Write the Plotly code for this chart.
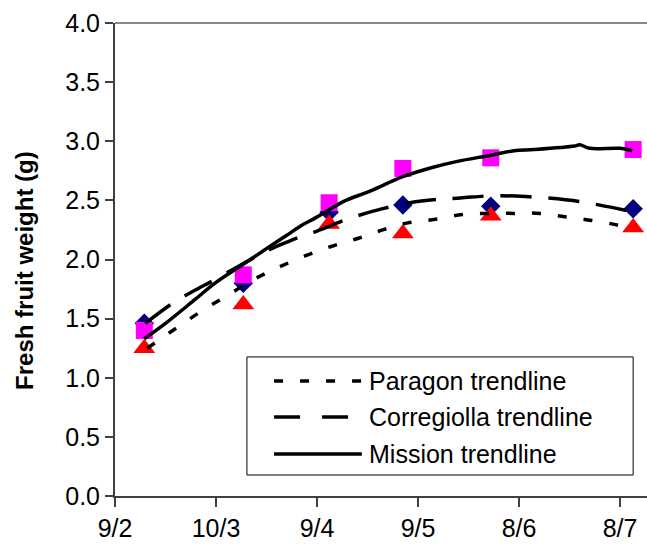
import plotly.graph_objects as go

# ---- data ----
tick_labels = ["9/2", "10/3", "9/4", "9/5", "8/6", "8/7"]
tick_positions = [0, 1, 2, 3, 4, 5]
sample_x = [0.29, 1.27, 2.12, 2.85, 3.72, 5.13]

paragon = [1.25, 1.62, 2.30, 2.22, 2.37, 2.27]
corregiolla = [1.46, 1.80, 2.40, 2.46, 2.45, 2.43]
mission = [1.40, 1.87, 2.48, 2.77, 2.86, 2.93]

paragon_trend_x = [0.32, 0.59, 0.85, 1.12, 1.37, 1.61, 1.88, 2.14, 2.41, 2.65,
                   2.90, 3.17, 3.44, 3.70, 3.95, 4.21, 4.47, 4.72, 4.98, 5.05]
paragon_trend_y = [1.25, 1.41, 1.56, 1.70, 1.83, 1.93, 2.03, 2.11, 2.18, 2.25,
                   2.31, 2.34, 2.38, 2.39, 2.39, 2.39, 2.36, 2.33, 2.29, 2.27]

corregiolla_trend_x = [0.30, 0.57, 0.77, 0.99, 1.32, 1.52, 1.71, 1.83, 2.00, 2.33,
                       2.65, 2.92, 3.22, 3.42, 3.75, 4.11, 4.28, 4.60, 4.80, 5.09]
corregiolla_trend_y = [1.46, 1.63, 1.73, 1.83, 1.99, 2.08, 2.15, 2.19, 2.24, 2.35,
                       2.43, 2.48, 2.51, 2.52, 2.54, 2.53, 2.52, 2.49, 2.46, 2.41]

mission_trend_x = [0.29, 0.50, 0.79, 0.99, 1.27, 1.55, 1.71, 1.83, 1.98, 2.12, 2.26,
                   2.53, 2.85, 3.15, 3.39, 3.71, 3.95, 4.15, 4.55, 4.60, 4.70, 5.00, 5.12]
mission_trend_y = [1.33, 1.46, 1.66, 1.80, 1.96, 2.12, 2.21, 2.28, 2.35, 2.42, 2.49,
                   2.58, 2.70, 2.78, 2.83, 2.88, 2.92, 2.93, 2.96, 2.97, 2.94, 2.94, 2.92]

legend_names = ["Paragon trendline", "Corregiolla trendline", "Mission trendline"]

FONT = "Liberation Sans, Arial, sans-serif"
PARAGON_DASH = "9px,17px"
CORREG_DASH = "31px,17px"

fig = go.Figure()

# markers
fig.add_trace(go.Scatter(x=sample_x, y=corregiolla, mode="markers", showlegend=False,
                         marker=dict(symbol="diamond", size=15, color="#000080", line=dict(width=0))))
fig.add_trace(go.Scatter(x=sample_x, y=mission, mode="markers", showlegend=False,
                         marker=dict(symbol="square", size=17, color="#FF00FF", line=dict(width=0))))
fig.add_trace(go.Scatter(x=sample_x, y=paragon, mode="markers", showlegend=False,
                         marker=dict(symbol="triangle-up", size=19, color="#FF0000", line=dict(width=0))))

# trendlines
fig.add_trace(go.Scatter(x=paragon_trend_x, y=paragon_trend_y, mode="lines", showlegend=False,
                         line=dict(color="black", width=3.5, dash=PARAGON_DASH, shape="spline")))
fig.add_trace(go.Scatter(x=corregiolla_trend_x, y=corregiolla_trend_y, mode="lines", showlegend=False,
                         line=dict(color="black", width=3.5, dash=CORREG_DASH, shape="spline")))
fig.add_trace(go.Scatter(x=mission_trend_x, y=mission_trend_y, mode="lines", showlegend=False,
                         line=dict(color="black", width=3.5, shape="spline")))

axis_common = dict(showgrid=False, zeroline=False, showline=True, linecolor="#404040", linewidth=2,
                   ticks="outside", tickcolor="#404040", tickwidth=1.5,
                   tickfont=dict(family=FONT, size=25, color="black"))

fig.update_xaxes(range=[0, 5.267], tickvals=tick_positions, ticktext=tick_labels, ticklen=9, **axis_common)
fig.update_yaxes(range=[0, 4], dtick=0.5, tickformat=".1f", ticklen=8, **axis_common)

shapes = [
    # top border of plot area
    dict(type="line", xref="paper", yref="paper", x0=0, x1=1, y0=1, y1=1,
         line=dict(color="#888888", width=2)),
    # legend box
    dict(type="rect", xref="paper", yref="paper", x0=0.248, x1=0.974, y0=0.0444, y1=0.294,
         line=dict(color="black", width=1), fillcolor="white", layer="above"),
]
legend_rows_y = [0.243, 0.167, 0.0888]
legend_dashes = [PARAGON_DASH, "26px,22px", "solid"]
annotations = []
for name, yy, dsh in zip(legend_names, legend_rows_y, legend_dashes):
    shapes.append(dict(type="line", xref="paper", yref="paper", x0=0.299, x1=0.464, y0=yy, y1=yy,
                       line=dict(color="black", width=3.5, dash=dsh), layer="above"))
    annotations.append(dict(xref="paper", yref="paper", x=0.474, y=yy, xanchor="left", yanchor="middle",
                            text=name, showarrow=False, font=dict(family=FONT, size=25, color="black")))

annotations.append(dict(xref="paper", yref="paper", x=-0.169, y=0.476, xanchor="center", yanchor="middle",
                        text="Fresh fruit weight (g)", textangle=-90, showarrow=False,
                        font=dict(family=FONT, size=24, color="black", weight="bold")))

fig.update_layout(width=647, height=546, margin=dict(l=115, r=0, t=23, b=50),
                  plot_bgcolor="white", paper_bgcolor="white",
                  shapes=shapes, annotations=annotations, showlegend=False)

fig.write_html("out.html", config={"displayModeBar": False},
               post_script="document.body.style.margin='0';document.body.style.overflow='hidden';")
